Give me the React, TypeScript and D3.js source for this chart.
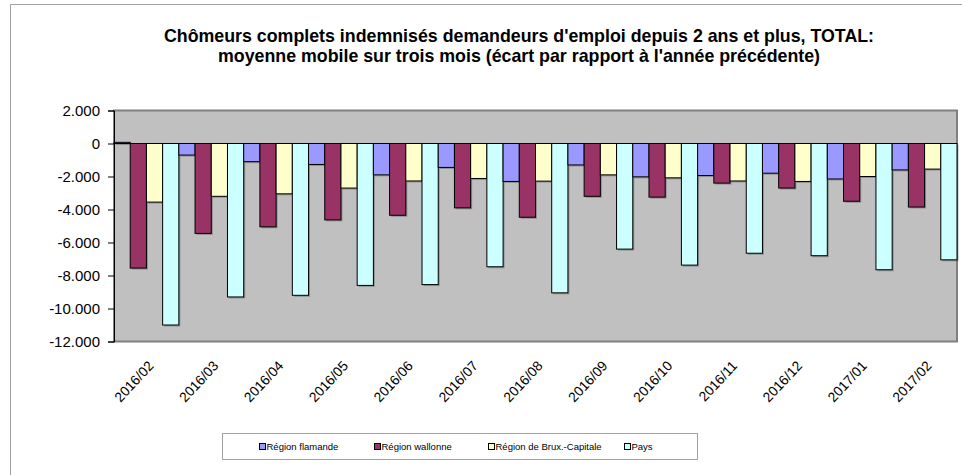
import * as d3 from "d3";
import React, { useEffect, useRef } from "react";

const months = [
  "2016/02", "2016/03", "2016/04", "2016/05", "2016/06", "2016/07", "2016/08",
  "2016/09", "2016/10", "2016/11", "2016/12", "2017/01", "2017/02",
];

const flamande = [70, -700, -1100, -1270, -1900, -1450, -2300, -1300, -2020, -1940, -1800, -2150, -1600];
const wallonne = [-7550, -5450, -5050, -4630, -4350, -3900, -4470, -3200, -3250, -2400, -2700, -3500, -3850];
const bruxelles = [-3550, -3200, -3050, -2700, -2270, -2120, -2280, -1900, -2080, -2270, -2300, -2000, -1550];
const pays = [-11000, -9300, -9200, -8600, -8550, -7470, -9050, -6400, -7370, -6650, -6800, -7650, -7050];

const seriesNames = ["Région flamande", "Région wallonne", "Région de Brux.-Capitale", "Pays"];
const seriesColors = ["#9999FF", "#993366", "#FFFFCC", "#CCFFFF"];
const yTicks = [2000, 0, -2000, -4000, -6000, -8000, -10000, -12000];

const titleLines = [
  "Chômeurs complets indemnisés demandeurs d'emploi depuis 2 ans et plus, TOTAL:",
  "moyenne mobile sur trois mois (écart par rapport à l'année précédente)",
];

const FONT = "'Liberation Sans', Arial, sans-serif";

const App = () => {
  const chartRef = useRef<SVGSVGElement | null>(null);

  useEffect(() => {
    if (chartRef.current) drawChart();
    return () => {
      d3.select(chartRef.current).selectAll("*").remove();
    };
  }, []);

  const drawChart = () => {
    const width = 962;
    const height = 475;
    const plot = { left: 114, right: 957, top: 110.5, bottom: 341.5 };
    const svg = d3.select(chartRef.current).attr("width", width).attr("height", height);

    // outer chart frame (only left and top edges fall inside the picture)
    svg.append("rect").attr("width", width).attr("height", height).attr("fill", "#fff");
    svg.append("path")
      .attr("d", `M10.5,${height} V4.5 H${width}`)
      .attr("fill", "none")
      .attr("stroke", "#a0a0a0");

    // title
    svg.append("g")
      .selectAll("text")
      .data(titleLines)
      .enter()
      .append("text")
      .attr("x", 519)
      .attr("y", (d, i) => 42 + i * 19.5)
      .attr("text-anchor", "middle")
      .attr("font-family", FONT)
      .attr("font-weight", "bold")
      .attr("font-size", 17.8)
      .text((d) => d);

    const x0 = d3.scaleBand().domain(months).range([plot.left, plot.right]).paddingInner(0).paddingOuter(0);
    const x1 = d3.scaleBand().domain(seriesNames).range([0, x0.bandwidth()]).padding(0);
    const y = d3.scaleLinear().domain([-12000, 2000]).range([plot.bottom, plot.top]);

    // plot background
    svg.append("rect")
      .attr("x", plot.left)
      .attr("y", plot.top)
      .attr("width", plot.right - plot.left)
      .attr("height", plot.bottom - plot.top)
      .attr("fill", "#C0C0C0")
      .attr("stroke", "#808080")
      .attr("stroke-width", 2);

    const values = [flamande, wallonne, bruxelles, pays];
    const bars = months.flatMap((m, i) =>
      seriesNames.map((s, j) => ({ month: m, series: s, value: values[j][i], color: seriesColors[j] }))
    );

    const barGroup = svg.append("g");

    // soft shadow behind bars
    barGroup.selectAll(".shadow")
      .data(bars)
      .enter()
      .append("rect")
      .attr("x", (d) => (x0(d.month) as number) + (x1(d.series) as number) + 1.5)
      .attr("y", (d) => Math.min(y(d.value), y(0)) + 1.5)
      .attr("width", x1.bandwidth())
      .attr("height", (d) => Math.abs(y(d.value) - y(0)))
      .attr("fill", "#555")
      .attr("opacity", 0.45);

    barGroup.selectAll(".bar")
      .data(bars)
      .enter()
      .append("rect")
      .attr("x", (d) => (x0(d.month) as number) + (x1(d.series) as number))
      .attr("y", (d) => Math.min(y(d.value), y(0)))
      .attr("width", x1.bandwidth())
      .attr("height", (d) => Math.abs(y(d.value) - y(0)))
      .attr("fill", (d) => d.color)
      .attr("stroke", "#000")
      .attr("stroke-width", 1);

    // zero line
    svg.append("line")
      .attr("x1", plot.left)
      .attr("x2", plot.right)
      .attr("y1", y(0))
      .attr("y2", y(0))
      .attr("stroke", "#000");

    // y axis
    const yAxis = svg.append("g")
      .attr("transform", `translate(${plot.left},0)`)
      .call(
        d3.axisLeft(y)
          .tickValues(yTicks)
          .tickSize(6)
          .tickPadding(8)
          .tickFormat((d) => d3.format(",")(d as number).replace(/,/g, ".").replace("−", "-"))
      );
    yAxis.select(".domain").attr("stroke", "#000");
    yAxis.selectAll("line").attr("stroke", "#000");
    yAxis.selectAll("text")
      .attr("font-family", FONT)
      .attr("font-size", 15)
      .attr("fill", "#000");

    // x labels, rotated
    svg.append("g")
      .selectAll("text")
      .data(months)
      .enter()
      .append("text")
      .attr("transform", (d) => {
        const cx = (x0(d) as number) + x0.bandwidth() / 2 + 8;
        return `translate(${cx},${plot.bottom + 25}) rotate(-47)`;
      })
      .attr("text-anchor", "end")
      .attr("font-family", FONT)
      .attr("font-size", 13.8)
      .text((d) => d);

    // legend
    const legend = svg.append("g");
    legend.append("rect")
      .attr("x", 222.5)
      .attr("y", 433.5)
      .attr("width", 475)
      .attr("height", 26)
      .attr("fill", "#fff")
      .attr("stroke", "#a0a0a0");
    const legendX = [259, 374, 488, 624];
    const items = legend.selectAll(".item")
      .data(seriesNames)
      .enter()
      .append("g")
      .attr("transform", (d, i) => `translate(${legendX[i]},446.5)`);
    items.append("rect")
      .attr("x", 0.5)
      .attr("y", -3)
      .attr("width", 6)
      .attr("height", 6)
      .attr("fill", (d, i) => seriesColors[i])
      .attr("stroke", "#000");
    items.append("text")
      .attr("x", 7.5)
      .attr("y", 3.5)
      .attr("font-family", FONT)
      .attr("font-size", 9.5)
      .text((d) => d);
  };

  return (
    <div style={{ position: "absolute", left: 0, top: 0 }}>
      <svg ref={chartRef} style={{ display: "block" }} />
    </div>
  );
};

export default App;
